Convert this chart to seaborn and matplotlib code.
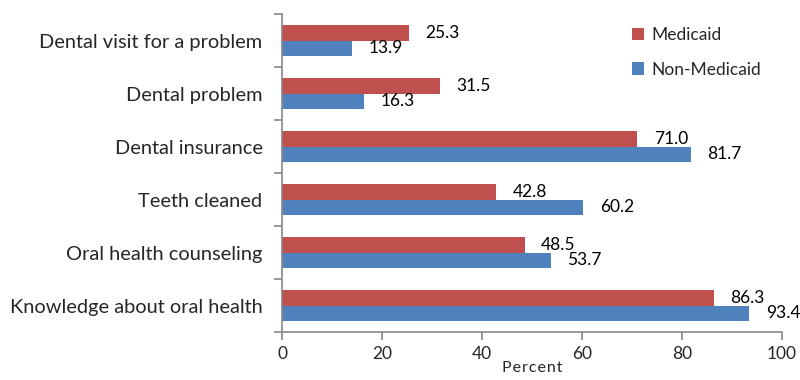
import matplotlib
matplotlib.use("Agg")
import matplotlib.pyplot as plt
from matplotlib.ticker import FixedLocator
import seaborn as sns
import pandas as pd

categories = ["Dental visit for a problem", "Dental problem", "Dental insurance",
              "Teeth cleaned", "Oral health counseling", "Knowledge about oral health"]
medicaid = [25.3, 31.5, 71.0, 42.8, 48.5, 86.3]
non_medicaid = [13.9, 16.3, 81.7, 60.2, 53.7, 93.4]
series = ["Medicaid", "Non-Medicaid"]
x_ticks = [0, 20, 40, 60, 80, 100]

df = pd.DataFrame({
    "category": categories * 2,
    "value": medicaid + non_medicaid,
    "group": [series[0]] * len(categories) + [series[1]] * len(categories),
})

sns.set_style("white")
plt.rcParams["font.family"] = ["Lato", "DejaVu Sans"]

fig = plt.figure(figsize=(8, 3.8), dpi=100)
ax = fig.add_axes([0.3525, 0.126, 0.625, 0.837])

palette = {"Medicaid": "#C0504D", "Non-Medicaid": "#4F81BD"}
sns.barplot(data=df, x="value", y="category", hue="group", order=categories,
            hue_order=series, palette=palette, orient="h", width=0.58,
            saturation=1, ax=ax, edgecolor="none")

for cont in ax.containers:
    ax.bar_label(cont, fmt="%.1f", padding=12, fontsize=12.5, color="#000000")

ax.set_xlim(0, 100)
ax.set_ylim(len(categories) - 0.5, -0.5)
ax.xaxis.set_major_locator(FixedLocator(x_ticks))
ax.set_xticklabels([str(t) for t in x_ticks], fontsize=12.5)
ax.tick_params(axis="x", which="major", direction="out", length=6, width=1.2,
               color="#888888", bottom=True, pad=4)
ax.set_yticks(range(len(categories)))
ax.set_yticklabels(categories, fontsize=14.4)
ax.tick_params(axis="y", which="major", length=0, pad=14)
ax.yaxis.set_minor_locator(FixedLocator([i - 0.5 for i in range(len(categories) + 1)]))
ax.tick_params(axis="y", which="minor", direction="out", length=6, width=1.2,
               color="#888888", left=True)

for side in ["top", "right"]:
    ax.spines[side].set_visible(False)
for side in ["left", "bottom"]:
    ax.spines[side].set_color("#888888")
    ax.spines[side].set_linewidth(1.2)

ax.set_ylabel("")
ax.set_xlabel("P e r c e n t".replace(" ", "\u200a"), fontsize=11.5, labelpad=-1)

leg = ax.legend(loc="upper left", bbox_to_anchor=(0.79, 0.928),
                bbox_transform=fig.transFigure, frameon=False, borderpad=0,
                borderaxespad=0, fontsize=12.5, handlelength=0.7, handleheight=0.7,
                labelspacing=1.05, handletextpad=0.4)

fig.savefig("out.png", dpi=100)
